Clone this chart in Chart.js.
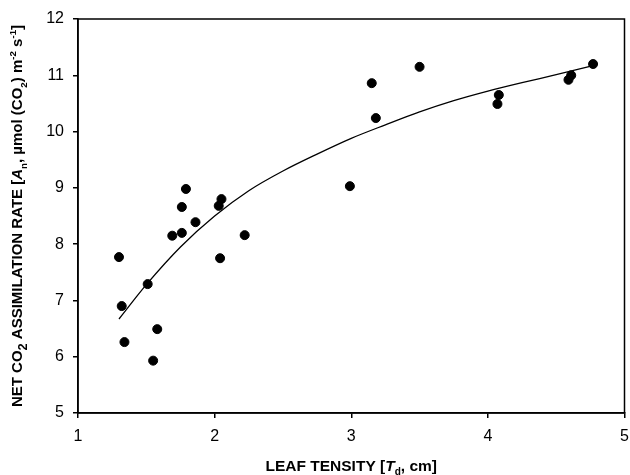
<!DOCTYPE html>
<html lang="en">
<head>
<meta charset="UTF-8" />
<title>Leaf tensity vs net CO2 assimilation</title>
<script src="https://cdn.jsdelivr.net/npm/chart.js@4"></script>
<style>
  * { margin: 0; padding: 0; box-sizing: border-box; }
  body { background: #fff; width: 630px; height: 475px; overflow: hidden; }
  .chart-container { width: 630px; height: 475px; }
</style>
</head>
<body>
<div class="chart-container"><canvas id="tensityChart"></canvas></div>
<script>
// measured points
const tensity = [1.30, 1.32, 1.34, 1.51, 1.58, 1.55, 1.69, 1.76, 1.76, 1.79, 1.86,
                 2.03, 2.05, 2.04, 2.22, 2.99, 3.15, 3.18, 3.50, 4.08, 4.07, 4.61, 4.59, 4.77];
const assimilation = [7.77, 6.90, 6.26, 7.29, 6.49, 5.93, 8.15, 8.20, 8.66, 8.98, 8.39,
                      8.68, 8.80, 7.75, 8.16, 9.03, 10.86, 10.24, 11.15, 10.65, 10.49, 11.00, 10.92, 11.20];

// fitted curve
const fitTensity = [1.30, 1.50, 1.75, 2.00, 2.25, 2.50, 2.75, 3.00, 3.25, 3.50, 3.75, 4.00, 4.25, 4.50, 4.77];
const fitAssimilation = [6.67, 7.28, 7.95, 8.50, 8.95, 9.30, 9.60, 9.88, 10.12, 10.35, 10.55, 10.72, 10.87, 11.01, 11.17];

const xTicks = [1, 2, 3, 4, 5];
const yTicks = [5, 6, 7, 8, 9, 10, 11, 12];

const titleFamily = "'Liberation Sans Narrow', 'Liberation Sans', Arial, sans-serif";
const tickFamily = "'Liberation Sans', Arial, sans-serif";

const xTitle = [
    { t: "LEAF TENSITY [" },
    { t: "T", italic: true },
    { t: "d", sub: true },
    { t: ", cm]" },
];
const yTitle = [
    { t: "NET CO" },
    { t: "2", sub: true, big: true },
    { t: " ASSIMILATION RATE [" },
    { t: "A", italic: true },
    { t: "n", sub: true },
    { t: ", \u00b5mol (CO" },
    { t: "2", sub: true },
    { t: ") m" },
    { t: "-2", sup: true },
    { t: " s" },
    { t: "-1", sup: true },
    { t: "]" },
];

function drawRich(ctx, parts, size) {
    const fontFor = (p) => {
        let s = size;
        if (p.sub || p.sup) s = p.big ? size * 0.85 : size * 0.65;
        return (p.italic ? "italic " : "") + "bold " + s + "px " + titleFamily;
    };
    let total = 0;
    parts.forEach((p) => {
        ctx.font = fontFor(p);
        total += ctx.measureText(p.t).width;
    });
    let x = -total / 2;
    parts.forEach((p) => {
        ctx.font = fontFor(p);
        let dy = size * 0.36;
        if (p.sub) dy += size * 0.3;
        if (p.sup) dy -= size * 0.4;
        ctx.fillText(p.t, x, dy);
        x += ctx.measureText(p.t).width;
    });
}

const frameAndTitles = {
    id: "frameAndTitles",
    afterDraw(chart) {
        const { ctx, chartArea: a } = chart;
        ctx.save();
        ctx.strokeStyle = "#000";
        ctx.lineWidth = 1.5;
        ctx.strokeRect(a.left, a.top, a.right - a.left, a.bottom - a.top);
        ctx.fillStyle = "#000";
        ctx.textBaseline = "alphabetic";

        ctx.save();
        ctx.translate((a.left + a.right) / 2, 465);
        drawRich(ctx, xTitle, 15.5);
        ctx.restore();

        ctx.save();
        ctx.translate(17, (a.top + a.bottom) / 2);
        ctx.rotate(-Math.PI / 2);
        drawRich(ctx, yTitle, 15);
        ctx.restore();

        ctx.restore();
    },
};

const ctx = document.getElementById("tensityChart").getContext("2d");
const chart = new Chart(ctx, {
    type: "scatter",
    data: {
        datasets: [
            {
                label: "Measured",
                data: tensity.map((x, i) => ({ x: x, y: assimilation[i] })),
                backgroundColor: "#000",
                borderColor: "#000",
                pointRadius: 4.5,
                pointHoverRadius: 4.5,
            },
            {
                label: "Fit",
                data: fitTensity.map((x, i) => ({ x: x, y: fitAssimilation[i] })),
                showLine: true,
                borderColor: "#000",
                borderWidth: 1.3,
                pointRadius: 0,
                cubicInterpolationMode: "monotone",
            },
        ],
    },
    options: {
        animation: false,
        responsive: true,
        maintainAspectRatio: false,
        layout: { padding: { top: 19, right: 5, left: 0, bottom: 0 } },
        plugins: {
            legend: { display: false },
            tooltip: { enabled: false },
        },
        scales: {
            x: {
                type: "linear",
                min: 1,
                max: 5,
                afterBuildTicks: (s) => { s.ticks = xTicks.map((v) => ({ value: v })); },
                afterFit: (s) => { s.height = 62; s.paddingRight = 0; s.paddingLeft = 0; },
                grid: { drawOnChartArea: false, tickLength: 5, color: "#000", lineWidth: 1.5 },
                border: { color: "#000", width: 1.5 },
                ticks: {
                    color: "#000",
                    padding: 9,
                    font: { family: tickFamily, size: 16 },
                },
            },
            y: {
                type: "linear",
                min: 5,
                max: 12,
                afterBuildTicks: (s) => { s.ticks = yTicks.map((v) => ({ value: v })); },
                afterFit: (s) => { s.width = 78; s.paddingTop = 0; s.paddingBottom = 0; },
                grid: { drawOnChartArea: false, tickLength: 5, color: "#000", lineWidth: 1.5 },
                border: { color: "#000", width: 1.5 },
                ticks: {
                    color: "#000",
                    padding: 9,
                    font: { family: tickFamily, size: 16 },
                },
            },
        },
    },
    plugins: [frameAndTitles],
});
</script>
</body>
</html>
